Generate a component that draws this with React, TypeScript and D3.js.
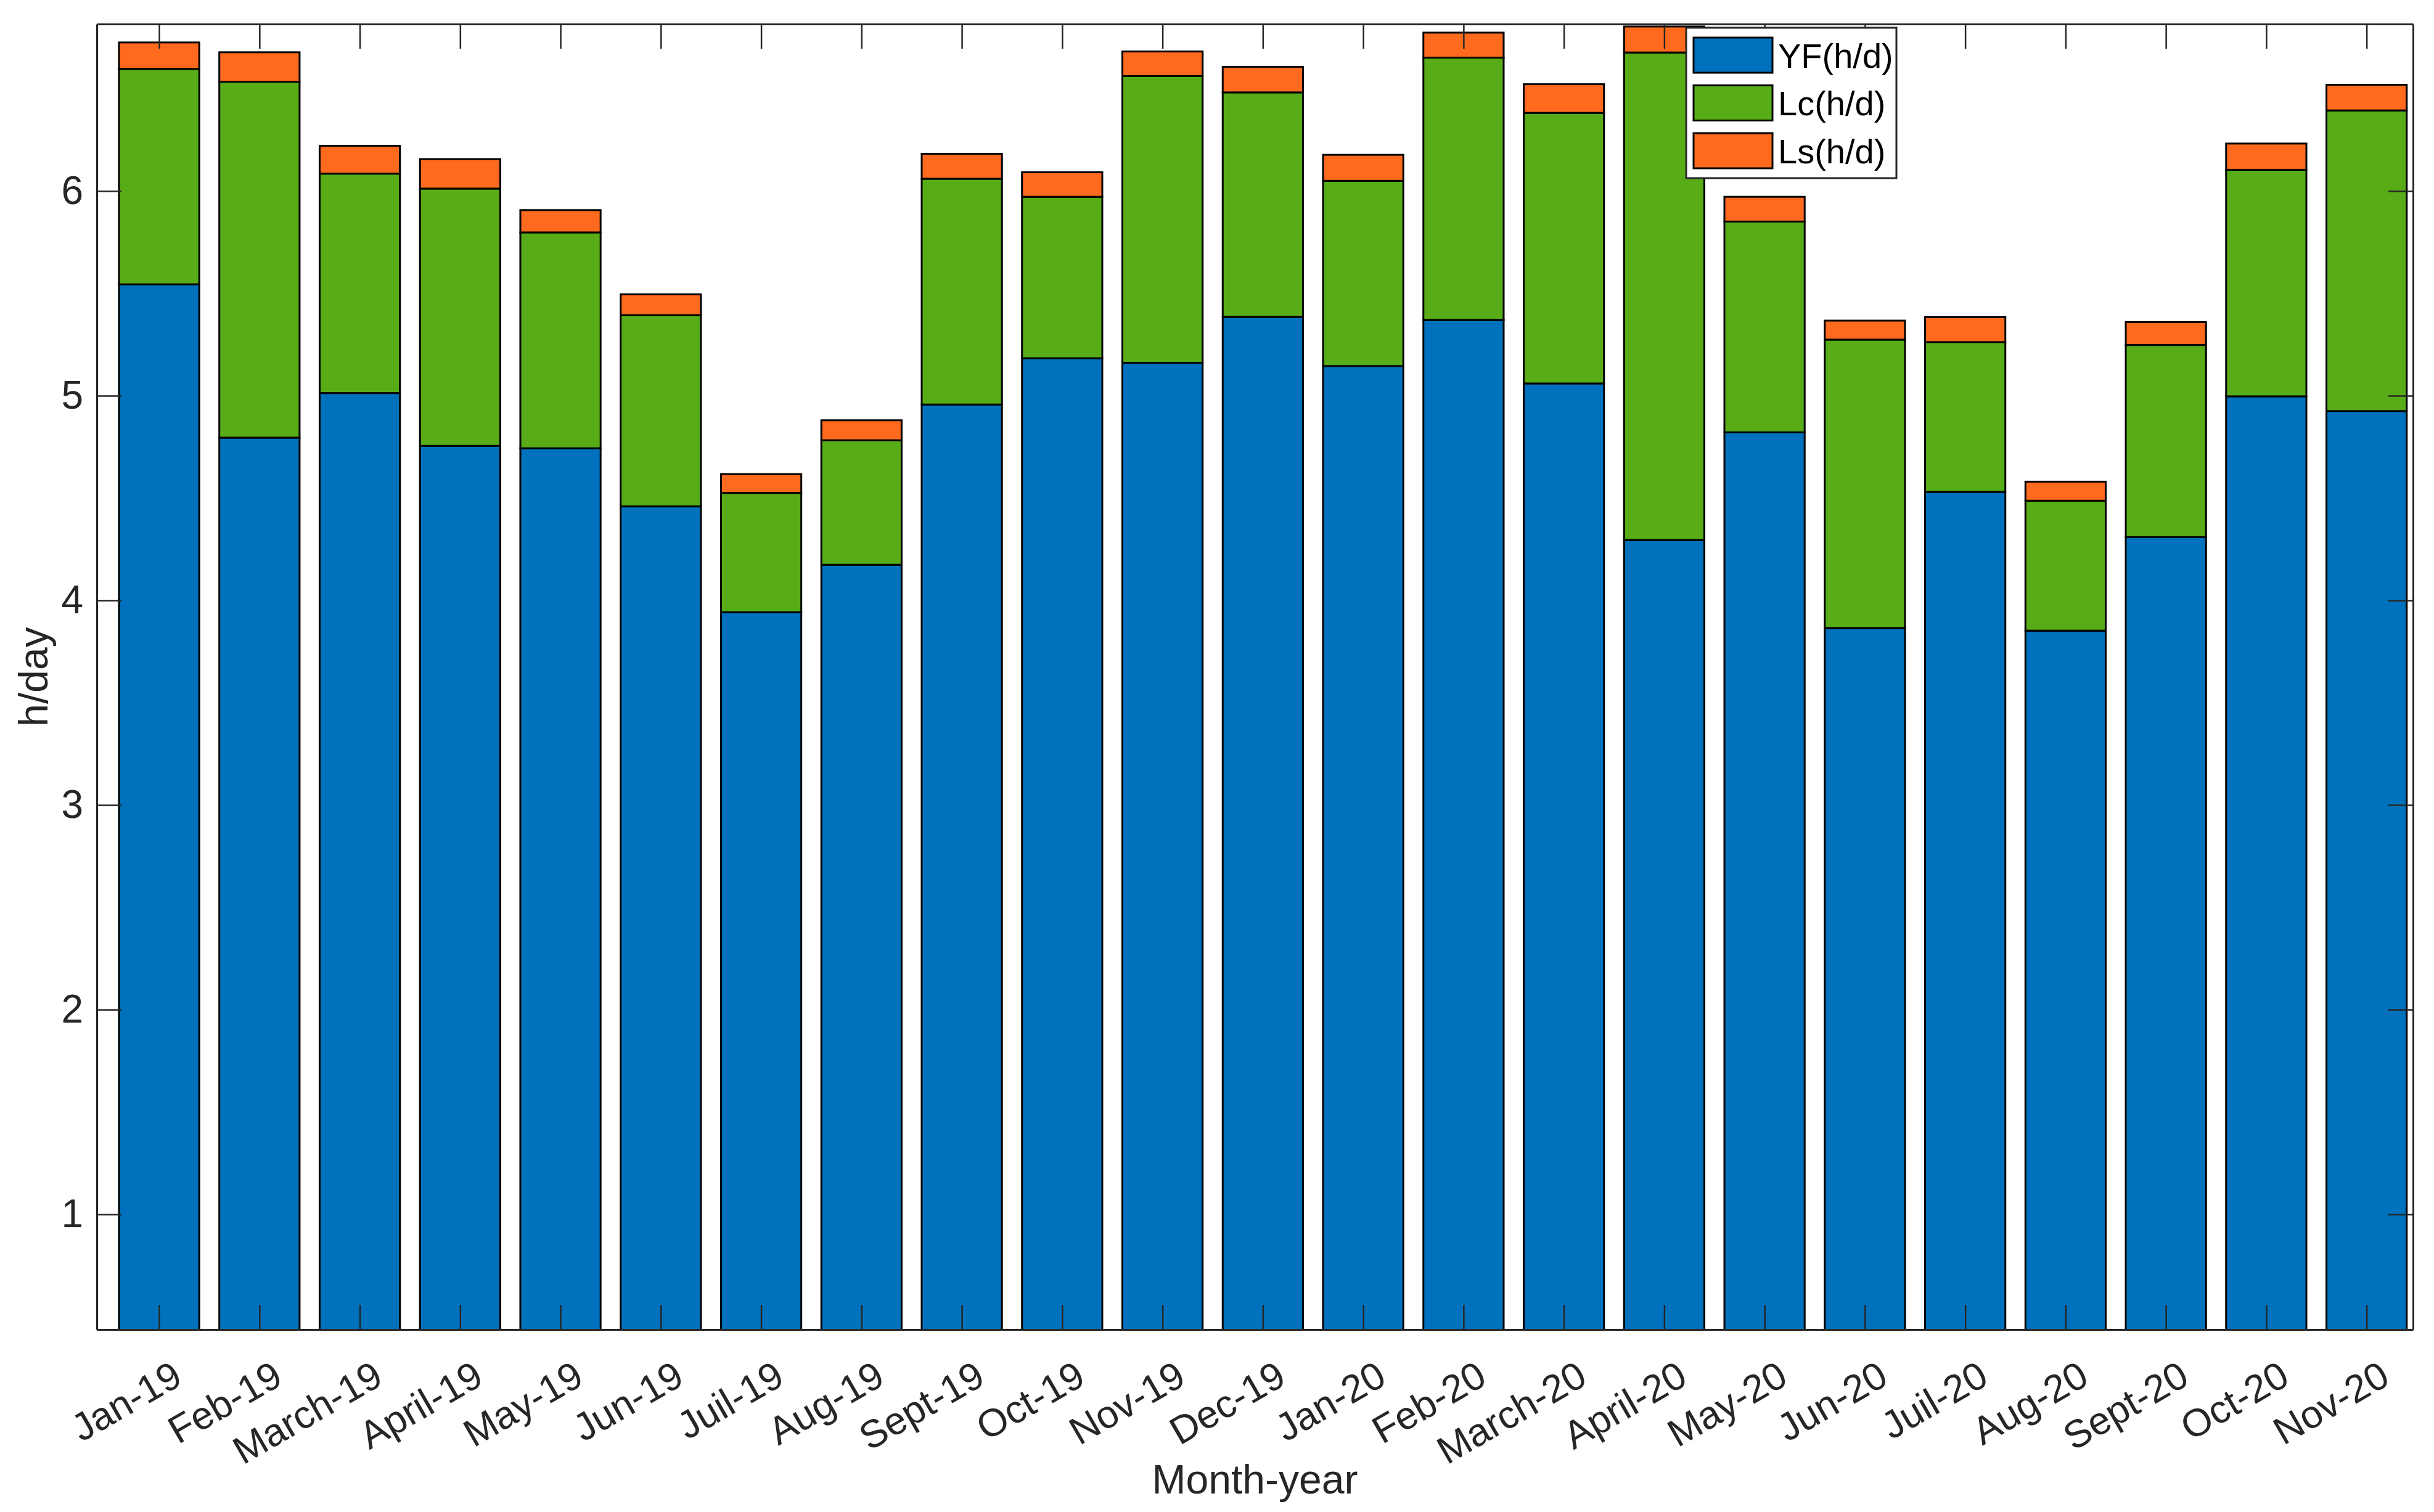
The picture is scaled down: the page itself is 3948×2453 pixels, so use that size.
import * as d3 from 'd3';
import { useEffect, useRef } from 'react';

// Data
const months = [
    'Jan-19', 'Feb-19', 'March-19', 'April-19', 'May-19', 'Jun-19', 'Juil-19', 'Aug-19',
    'Sept-19', 'Oct-19', 'Nov-19', 'Dec-19', 'Jan-20', 'Feb-20', 'March-20', 'April-20',
    'May-20', 'Jun-20', 'Juil-20', 'Aug-20', 'Sept-20', 'Oct-20', 'Nov-20'
];
const yf = [
    5.544, 4.795, 5.013, 4.755, 4.743, 4.459, 3.942, 4.174, 4.957, 5.183, 5.161, 5.385,
    5.145, 5.370, 5.060, 4.295, 4.821, 3.865, 4.530, 3.852, 4.309, 4.997, 4.925
];
const lc = [
    1.053, 1.739, 1.072, 1.257, 1.055, 0.934, 0.583, 0.608, 1.103, 0.789, 1.401, 1.097,
    0.905, 1.282, 1.322, 2.382, 1.030, 1.409, 0.732, 0.635, 0.939, 1.107, 1.469
];
const ls = [
    0.129, 0.144, 0.136, 0.144, 0.109, 0.102, 0.092, 0.098, 0.122, 0.120, 0.120, 0.125,
    0.127, 0.122, 0.140, 0.127, 0.121, 0.093, 0.122, 0.093, 0.112, 0.128, 0.125
];
const seriesNames = ['YF(h/d)', 'Lc(h/d)', 'Ls(h/d)'];
const seriesColors = ['#0072BD', '#58AC17', '#FF6A1E'];
const yTicks = [1, 2, 3, 4, 5, 6];
const yDomain: [number, number] = [0.437, 6.816];
const xDomain: [number, number] = [0.379, 23.463];

const W = 3948;
const H = 2453;
const FONT = '"Liberation Sans", Arial, sans-serif';
const AXIS = '#262626';

const App = () => {
    const svgRef = useRef<SVGSVGElement>(null);

    useEffect(() => {
        const svg = d3.select(svgRef.current);
        svg.selectAll('*').remove();

        const margin = { top: 39, right: W - 3914, bottom: H - 2157, left: 157 };
        const innerWidth = W - margin.left - margin.right;
        const innerHeight = H - margin.top - margin.bottom;

        const x = d3.scaleLinear().domain(xDomain).range([0, innerWidth]);
        const y = d3.scaleLinear().domain(yDomain).range([innerHeight, 0]);
        const idx = d3.range(1, months.length + 1);

        const rows = months.map((m, i) => ({ month: m, i: i + 1, YF: yf[i], Lc: lc[i], Ls: ls[i] }));
        const stack = d3.stack<any>().keys(['YF', 'Lc', 'Ls'])(rows);

        svg.append('rect').attr('width', W).attr('height', H).attr('fill', '#fff');

        svg.append('defs').append('clipPath').attr('id', 'plotClip')
            .append('rect').attr('width', innerWidth).attr('height', innerHeight);

        const g = svg.append('g').attr('transform', `translate(${margin.left},${margin.top})`);

        // Bars
        const barW = x(1.8) - x(1);
        const bars = g.append('g').attr('clip-path', 'url(#plotClip)');
        stack.forEach((layer, k) => {
            bars.append('g')
                .selectAll('rect')
                .data(layer)
                .enter()
                .append('rect')
                .attr('x', (d: any) => x(d.data.i) - barW / 2)
                .attr('width', barW)
                .attr('y', (d) => y(d[1]))
                .attr('height', (d) => y(d[0]) - y(d[1]))
                .attr('fill', seriesColors[k])
                .attr('stroke', '#000')
                .attr('stroke-width', 3);
        });

        const tick = 40;
        const styleAxis = (sel: any) => {
            sel.select('.domain').attr('stroke', AXIS).attr('stroke-width', 3);
            sel.selectAll('.tick line').attr('stroke', AXIS).attr('stroke-width', 2.5);
        };

        // Bottom axis
        const bottom = g.append('g')
            .attr('transform', `translate(0,${innerHeight})`)
            .call(d3.axisBottom(x).tickValues(idx).tickSizeInner(-tick).tickSizeOuter(0).tickFormat(() => ''))
            .call(styleAxis);
        bottom.selectAll('text').remove();
        g.append('g')
            .selectAll('text')
            .data(rows)
            .enter()
            .append('text')
            .attr('transform', (d) => `translate(${x(d.i) + 30},${innerHeight + 68}) rotate(-30)`)
            .attr('text-anchor', 'end')
            .attr('dominant-baseline', 'central')
            .attr('font-family', FONT)
            .attr('font-size', 63)
            .attr('fill', AXIS)
            .text((d) => d.month);

        // Top axis
        g.append('g')
            .call(d3.axisTop(x).tickValues(idx).tickSizeInner(-tick).tickSizeOuter(0).tickFormat(() => ''))
            .call(styleAxis);

        // Left axis
        const left = g.append('g')
            .call(d3.axisLeft(y).tickValues(yTicks).tickSizeInner(-tick).tickSizeOuter(0).tickPadding(22).tickFormat(d3.format('d')))
            .call(styleAxis);
        left.selectAll('text')
            .attr('font-family', FONT)
            .attr('font-size', 64)
            .attr('fill', AXIS);

        // Right axis
        g.append('g')
            .attr('transform', `translate(${innerWidth},0)`)
            .call(d3.axisRight(y).tickValues(yTicks).tickSizeInner(-tick).tickSizeOuter(0).tickFormat(() => ''))
            .call(styleAxis);

        // Axis labels
        svg.append('text')
            .attr('x', margin.left + innerWidth / 2)
            .attr('y', 2423)
            .attr('text-anchor', 'middle')
            .attr('font-family', FONT)
            .attr('font-size', 66)
            .attr('fill', AXIS)
            .text('Month-year');

        svg.append('text')
            .attr('transform', `translate(77,${margin.top + innerHeight / 2}) rotate(-90)`)
            .attr('text-anchor', 'middle')
            .attr('font-family', FONT)
            .attr('font-size', 66)
            .attr('fill', AXIS)
            .text('h/day');

        // Legend
        const legend = svg.append('g').attr('transform', 'translate(2735,45)');
        legend.append('rect')
            .attr('width', 341)
            .attr('height', 244)
            .attr('fill', '#fff')
            .attr('stroke', AXIS)
            .attr('stroke-width', 3);
        seriesNames.forEach((name, k) => {
            const cy = 45 + k * 77.5;
            legend.append('rect')
                .attr('x', 12)
                .attr('y', cy - 29)
                .attr('width', 128)
                .attr('height', 57)
                .attr('fill', seriesColors[k])
                .attr('stroke', '#000')
                .attr('stroke-width', 3);
            legend.append('text')
                .attr('x', 149)
                .attr('y', cy)
                .attr('dominant-baseline', 'central')
                .attr('font-family', FONT)
                .attr('font-size', 56)
                .attr('fill', '#000')
                .text(name);
        });
    }, []);

    return (
        <svg
            ref={svgRef}
            width={W}
            height={H}
            style={{ position: 'absolute', left: 0, top: 0, display: 'block' }}
        ></svg>
    );
};

export default App;
